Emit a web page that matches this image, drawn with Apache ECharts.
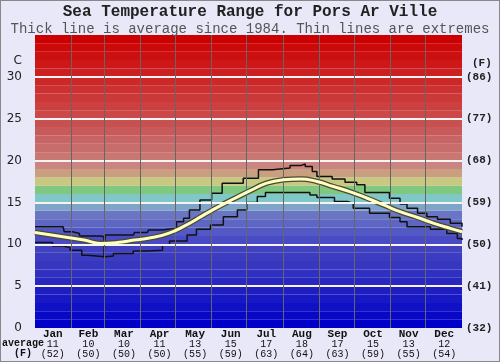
<!DOCTYPE html>
<html>
<head>
<meta charset="utf-8">
<script src="https://cdn.jsdelivr.net/npm/echarts@6.0.0/dist/echarts.min.js"></script>
<style>
  html, body { margin: 0; padding: 0; background: #e8e8f8; }
  #wrap { position: relative; width: 500px; height: 362px; }
  #chart { width: 500px; height: 362px; }
  #frame { position: absolute; left: 0; top: 0; right: 0; bottom: 0; border: 1px solid #888; pointer-events: none; }
</style>
</head>
<body>
<div id="wrap"><div id="chart"></div><div id="frame"></div></div>
<script>
// month labels under the chart
var months = ['Jan','Feb','Mar','Apr','May','Jun','Jul','Aug','Sep','Oct','Nov','Dec'];
var avgC = [11, 10, 10, 11, 13, 15, 17, 18, 17, 15, 13, 12];
var avgF = [52, 50, 50, 50, 55, 59, 63, 64, 63, 59, 55, 54];
var monthStarts = [31, 59, 90, 120, 151, 181, 212, 243, 273, 304, 334];

// left axis ticks (C), right axis shows the same in F
var tempTicks = [5, 10, 15, 20, 25, 30];

// average since 1984 (day of year, C)
var avgDays = [0, 14, 28, 42, 56, 70, 85, 100, 114, 128, 143, 157, 171, 184, 198, 212, 227, 241, 255, 269, 284, 298, 312, 327, 341, 355, 365];
var avgVals = [11.4, 11.1, 10.8, 10.5, 10.1, 10.2, 10.5, 10.8, 11.3, 12.2, 13.4, 14.5, 15.5, 16.4, 17.3, 17.7, 17.8, 17.5, 16.9, 16.3, 15.5, 14.7, 13.9, 13.2, 12.5, 11.9, 11.5];

// warmest on record
var maxDays = [0, 24, 25, 32, 38, 56, 59, 60, 84, 85, 96, 97, 109, 110, 119, 121, 127, 132, 141, 151, 160, 178, 191, 203, 218, 227, 231, 237, 241, 254, 265, 275, 282, 303, 312, 318, 327, 335, 344, 355, 365];
var maxVals = [12.1, 12.1, 11.5, 11.3, 11.0, 10.9, 8.4, 11.1, 11.1, 11.4, 11.4, 11.7, 11.7, 11.9, 11.9, 12.7, 13.1, 14.1, 15.3, 16.1, 17.3, 17.9, 18.9, 19.1, 19.4, 19.6, 19.3, 18.7, 18.1, 17.8, 17.4, 17.1, 16.2, 15.5, 14.8, 14.3, 13.7, 13.3, 13.0, 12.5, 12.1];

// coldest on record
var minDays = [0, 15, 24, 30, 40, 45, 60, 67, 84, 96, 109, 115, 130, 138, 150, 161, 173, 181, 190, 197, 212, 235, 241, 256, 267, 272, 286, 303, 312, 318, 338, 352, 361, 365];
var minVals = [10.2, 9.8, 9.6, 9.3, 8.7, 8.5, 8.6, 8.9, 9.2, 9.3, 9.9, 10.4, 11.1, 11.8, 12.3, 13.3, 14.1, 15.0, 15.7, 16.2, 16.2, 15.9, 15.6, 15.1, 14.9, 14.3, 13.7, 13.2, 12.7, 12.1, 11.8, 11.3, 10.7, 10.5];

// colour bands, one per degree from 0 up to 35
var bandColors = [
  '#0000c8','#0808c8','#1010c4','#1818c4','#1e1ec0',
  '#2828c0','#3030c0','#3636c0','#3c3cc0','#4242c0',
  '#4a4ac4','#5258c4','#5e66c4','#6a76c4','#80a4c8',
  '#80c8c8','#80c880','#c8c880','#c8a080','#cc8480',
  '#c87870','#c86c6c','#c86464','#c85a5a','#c85050',
  '#cc4848','#cc4040','#cc3838','#cc3030','#cc2828',
  '#cc2020','#cc1818','#cc1010','#cc0808','#cc0000'
];

function pairs(xs, ys) {
  var out = [];
  for (var i = 0; i < xs.length; i++) out.push([xs[i], ys[i]]);
  return out;
}

var bands = [];
for (var b = 0; b < bandColors.length; b++) {
  bands.push([{yAxis: b, itemStyle: {color: bandColors[b]}}, {yAxis: b + 1}]);
}
var hLines = tempTicks.map(function (t) { return {yAxis: t, lineStyle: {color: '#f4f4f4', width: 2, type: 'solid'}}; });
var vLines = monthStarts.map(function (d) { return {xAxis: d, lineStyle: {color: '#666', width: 1, type: 'solid'}}; });

var mono = 'Liberation Mono';
var myChart = echarts.init(document.getElementById('chart'));
var option = {
  backgroundColor: '#e8e8f8',
  animation: false,
  title: [{
    text: 'Sea Temperature Range for Pors Ar Ville',
    subtext: 'Thick line is average since 1984. Thin lines are extremes',
    left: 'center',
    top: 0,
    padding: [3, 5, 0, 5],
    itemGap: 1,
    textStyle: {fontFamily: mono, fontSize: 16, fontWeight: 'bold', color: '#222', lineHeight: 18},
    subtextStyle: {fontFamily: mono, fontSize: 14, color: '#555', lineHeight: 14}
  }, {
    text: 'average\n  (F)',
    left: 2,
    top: 338,
    padding: 0,
    textStyle: {fontFamily: mono, fontSize: 10, fontWeight: 'bold', color: '#111', lineHeight: 10}
  }],
  grid: {left: 35, right: 38, top: 35, bottom: 34, containLabel: false, outerBoundsMode: 'none'},
  xAxis: [
    {type: 'value', min: 0, max: 365, show: false},
    {
      type: 'category',
      data: months,
      position: 'bottom',
      boundaryGap: true,
      axisLine: {show: false},
      axisTick: {show: false},
      splitLine: {show: false},
      axisLabel: {
        margin: 1,
        interval: 0,
        formatter: function (v, i) {
          return '{m|' + v + '}\n{v|' + avgC[i] + '}\n{v|(' + avgF[i] + ')}';
        },
        rich: {
          m: {fontFamily: mono, fontSize: 11, fontWeight: 'bold', color: '#111', lineHeight: 10},
          v: {fontFamily: mono, fontSize: 10, color: '#111', lineHeight: 10}
        }
      }
    }
  ],
  yAxis: [
    {
      type: 'value', min: 0, max: 35, interval: 5,
      name: 'C', nameLocation: 'end', nameGap: -26,
      nameTextStyle: {fontFamily: 'DejaVu Sans', fontSize: 12, color: '#222', align: 'right', verticalAlign: 'middle', padding: [0, 13, 0, 0]},
      axisLine: {show: false}, axisTick: {show: false}, splitLine: {show: false},
      axisLabel: {showMaxLabel: false, margin: 13, fontFamily: 'DejaVu Sans', fontSize: 12, color: '#222'}
    },
    {
      type: 'value', min: 0, max: 35, interval: 5, position: 'right',
      name: '(F)', nameLocation: 'end', nameGap: -28,
      nameTextStyle: {fontFamily: mono, fontSize: 11, fontWeight: 'bold', color: '#222', align: 'left', verticalAlign: 'middle', padding: [0, 0, 0, 10]},
      axisLine: {show: false}, axisTick: {show: false}, splitLine: {show: false},
      axisLabel: {
        showMaxLabel: false, margin: 4, fontFamily: mono, fontSize: 11, fontWeight: 'bold', color: '#222',
        formatter: function (v) { return '(' + Math.round(v * 9 / 5 + 32) + ')'; }
      }
    }
  ],
  series: [
    {
      // background bands and grid lines
      type: 'line', data: [], z: 1,
      markArea: {silent: true, data: bands},
      markLine: {silent: true, symbol: 'none', label: {show: false}, data: hLines.concat(vLines)}
    },
    {
      name: 'max', type: 'line', step: 'end', showSymbol: false, z: 3,
      lineStyle: {color: '#111', width: 1.5},
      data: pairs(maxDays, maxVals)
    },
    {
      name: 'min', type: 'line', step: 'end', showSymbol: false, z: 3,
      lineStyle: {color: '#111', width: 1.5},
      data: pairs(minDays, minVals)
    },
    {
      name: 'avg-edge', type: 'line', smooth: true, showSymbol: false, z: 4,
      lineStyle: {color: '#4a4a30', width: 5.5},
      data: pairs(avgDays, avgVals)
    },
    {
      name: 'avg', type: 'line', smooth: true, showSymbol: false, z: 5,
      lineStyle: {color: '#ffffc4', width: 3},
      data: pairs(avgDays, avgVals)
    }
  ]
};
myChart.setOption(option);
</script>
</body>
</html>
